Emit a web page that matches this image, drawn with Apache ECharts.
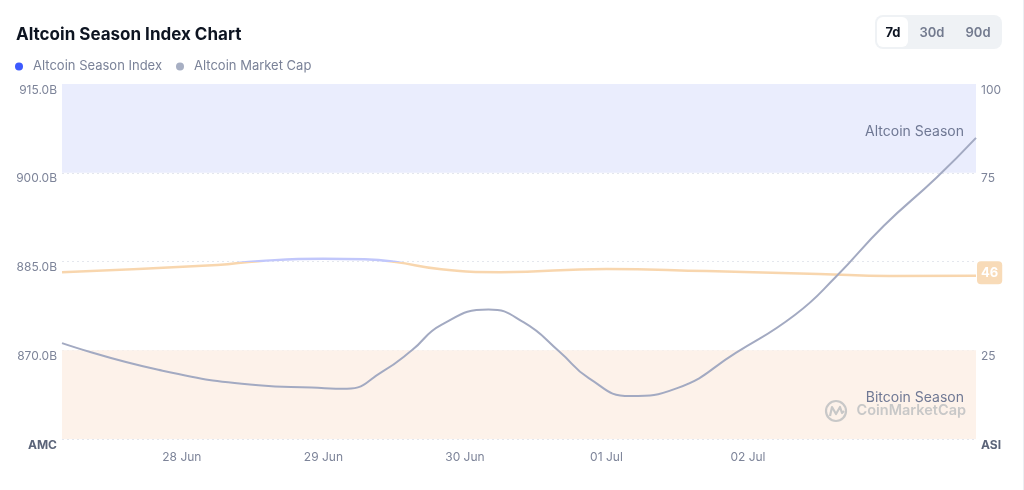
<!DOCTYPE html>
<html>
<head>
<meta charset="utf-8">
<script src="https://cdn.jsdelivr.net/npm/echarts@6/dist/echarts.min.js"></script>
<style>
html,body{margin:0;padding:0;background:#fff;}
#c{width:1024px;height:490px;}
</style>
</head>
<body>
<div id="c"></div>
<script>
// ---- data ----
var capTimes = ['2025-06-27 03:40','2025-06-27 20:00','2025-06-28 13:00','2025-06-28 22:00','2025-06-29 04:00','2025-06-29 10:00','2025-06-29 15:00','2025-06-29 20:00','2025-06-30 04:00','2025-06-30 10:00','2025-06-30 16:00','2025-06-30 21:00','2025-07-01 04:00','2025-07-01 12:00','2025-07-01 22:00','2025-07-02 08:00','2025-07-02 15:00','2025-07-02 23:00','2025-07-03 08:00','2025-07-03 14:40'];
var capValues = [871.2,866.7,864.1,863.7,863.5,866.4,870.0,874.3,876.9,874.7,869.8,865.3,862.25,863.6,869.6,876.0,882.5,891.0,899.2,905.9];
var indexTimes = ['2025-06-27 03:40','2025-06-28 06:00','2025-06-28 13:00','2025-06-29 00:00','2025-06-29 07:00','2025-06-29 12:00','2025-06-29 20:00','2025-06-30 06:00','2025-07-01 00:00','2025-07-01 17:00','2025-07-02 12:00','2025-07-03 00:00','2025-07-03 14:40'];
var indexValues = [47.0,49.0,50.1,50.8,50.6,49.9,47.8,47.0,47.9,47.3,46.5,45.9,46];
var xTickDates = ['2025-06-28 00:00','2025-06-29 00:00','2025-06-30 00:00','2025-07-01 00:00','2025-07-02 00:00'];
var xTickLabels = ['28 Jun','29 Jun','30 Jun','01 Jul','02 Jul'];
var leftTicks = [855,870,885,900,915];
var rightTicks = [0,25,50,75,100];
var rightTicksHidden = [50];
var seriesNames = ['Altcoin Season Index','Altcoin Market Cap'];
var rangeButtons = ['7d','30d','90d'];

function parseT(s){
  var p = s.split(/[- :]/);
  return Date.UTC(+p[0], +p[1]-1, +p[2], +(p[3]||0), +(p[4]||0));
}
var t0 = parseT(capTimes[0]);
function hrs(s){ return Math.round((parseT(s)-t0)/36000)/100; }
var capData = capTimes.map(function(t,i){return [hrs(t), capValues[i]];});
var idxData = indexTimes.map(function(t,i){return [hrs(t), indexValues[i]];});
var tickVals = xTickDates.map(hrs);
var xMax = hrs(capTimes[capTimes.length-1]);

var GRID = {left:62,right:48,top:84,bottom:51};
var H = 490;
// index line: blue above 50, orange below (split at middle of the right axis)
var idxGradient = new echarts.graphic.LinearGradient(0, GRID.top, 0, H-GRID.bottom, [
  {offset:0,color:'#c1c7fb'},{offset:0.5,color:'#c1c7fb'},
  {offset:0.5,color:'#f8d6ae'},{offset:1,color:'#f8d6ae'}
], true);

var FONT = 'Inter, "Noto Sans", sans-serif';
var chart = echarts.init(document.getElementById('c'));
chart.setOption({
  backgroundColor:'#fff',
  animation:false,
  textStyle:{fontFamily:FONT},
  title:{text:'Altcoin Season Index Chart',left:11,top:21,textStyle:{fontFamily:FONT,fontSize:17,fontWeight:'bold',color:'#0d1421'}},
  legend:{
    left:10, top:55, itemGap:14, itemWidth:18, itemHeight:8, icon:'circle',
    textStyle:{fontFamily:FONT,fontSize:13,color:'#7a8298'},
    data:[{name:seriesNames[0],itemStyle:{color:'#3d5afe'}},{name:seriesNames[1],itemStyle:{color:'#a7afc3'}}]
  },
  grid:GRID,
  xAxis:{
    type:'value', min:0, max:xMax,
    axisLine:{show:false}, axisTick:{show:false}, splitLine:{show:false},
    axisLabel:{
      customValues:tickVals, margin:12, fontSize:12, color:'#7d8499',
      formatter:function(v){
        for(var i=0;i<tickVals.length;i++){ if(Math.abs(tickVals[i]-v)<0.01) return xTickLabels[i]; }
        return '';
      }
    }
  },
  yAxis:[{
    type:'value', position:'left', min:leftTicks[0], max:leftTicks[leftTicks.length-1], interval:15,
    axisLine:{show:false}, axisTick:{show:false},
    splitLine:{show:true,lineStyle:{type:[2,3],color:'#e4e7ee',width:1}},
    axisLabel:{
      margin:5, fontSize:12, color:'#7d8499', verticalAlign:'top',
      formatter:function(v){return v===leftTicks[0]?'{b|AMC}':v.toFixed(1)+'B';},
      rich:{b:{fontWeight:'bold',color:'#5b6479',fontSize:12,fontFamily:FONT}}
    }
  },{
    type:'value', position:'right', min:rightTicks[0], max:rightTicks[rightTicks.length-1], interval:25,
    axisLine:{show:false}, axisTick:{show:false}, splitLine:{show:false},
    axisLabel:{
      margin:5, fontSize:12, color:'#7d8499', verticalAlign:'top',
      formatter:function(v){
        if(v===rightTicks[0]) return '{b|ASI}';
        if(rightTicksHidden.indexOf(v)>=0) return '';
        return String(v);
      },
      rich:{b:{fontWeight:'bold',color:'#5b6479',fontSize:12,fontFamily:FONT}}
    }
  }],
  series:[{
    name:'bands', type:'line', yAxisIndex:1, data:[], z:1, silent:true,
    markArea:{
      silent:true,
      label:{position:'insideRight',distance:12,fontSize:14,color:'#6f7894',fontFamily:FONT,offset:[0,3]},
      data:[
        [{yAxis:75,name:'Altcoin Season',itemStyle:{color:'#eaedfd'}},{yAxis:100}],
        [{yAxis:0,name:'Bitcoin Season',itemStyle:{color:'#fdf2ea'}},{yAxis:25}]
      ]
    }
  },{
    name:seriesNames[1], type:'line', yAxisIndex:0, data:capData, smooth:0.5,
    showSymbol:false, symbol:'none', z:4,
    itemStyle:{color:'#a7afc3'},
    lineStyle:{color:'#a3aac2',width:2}
  },{
    name:seriesNames[0], type:'line', yAxisIndex:1, data:idxData, smooth:0.5,
    showSymbol:false, symbol:'none', z:3,
    itemStyle:{color:'#3d5afe'},
    lineStyle:{width:2.5,color:idxGradient},
    endLabel:{
      show:true, distance:1,
      formatter:function(p){return String(Math.round(p.value[1]));},
      backgroundColor:'#f8dbb8', color:'#fff', fontWeight:'bold', fontSize:13, fontFamily:FONT,
      padding:[5,4,5,4], borderRadius:4, offset:[0,-3]
    }
  }],
  graphic:[
    {type:'rect',shape:{x:875,y:15,width:127,height:34,r:8},style:{fill:'#eff2f5'}},
    {type:'rect',shape:{x:877,y:17,width:31,height:30,r:6},style:{fill:'#ffffff'}},
    {type:'text',x:893,y:33,style:{text:rangeButtons[0],fontFamily:FONT,fontSize:13,fontWeight:'bold',fill:'#0d1421',align:'center',verticalAlign:'middle'}},
    {type:'text',x:932,y:33,style:{text:rangeButtons[1],fontFamily:FONT,fontSize:13,fontWeight:600,fill:'#727a8e',align:'center',verticalAlign:'middle'}},
    {type:'text',x:978,y:33,style:{text:rangeButtons[2],fontFamily:FONT,fontSize:13,fontWeight:600,fill:'#727a8e',align:'center',verticalAlign:'middle'}},
    {type:'line',shape:{x1:1023.5,y1:0,x2:1023.5,y2:490},style:{stroke:'#eceef2',lineWidth:1}},
    {type:'circle',shape:{cx:836,cy:411,r:10},style:{fill:'none',stroke:'#c8c8c8',lineWidth:2.2},z:10},
    {type:'polyline',shape:{points:[[830,416],[832,407],[836,414],[840,407],[842,413],[844,411]]},style:{fill:'none',stroke:'#c8c8c8',lineWidth:2.2,lineJoin:'round'},z:10},
    {type:'text',x:966,y:411,style:{text:'CoinMarketCap',fontFamily:FONT,fontSize:14.5,fontWeight:600,fill:'#c8c8c8',align:'right',verticalAlign:'middle'},z:10}
  ]
});
</script>
</body>
</html>
